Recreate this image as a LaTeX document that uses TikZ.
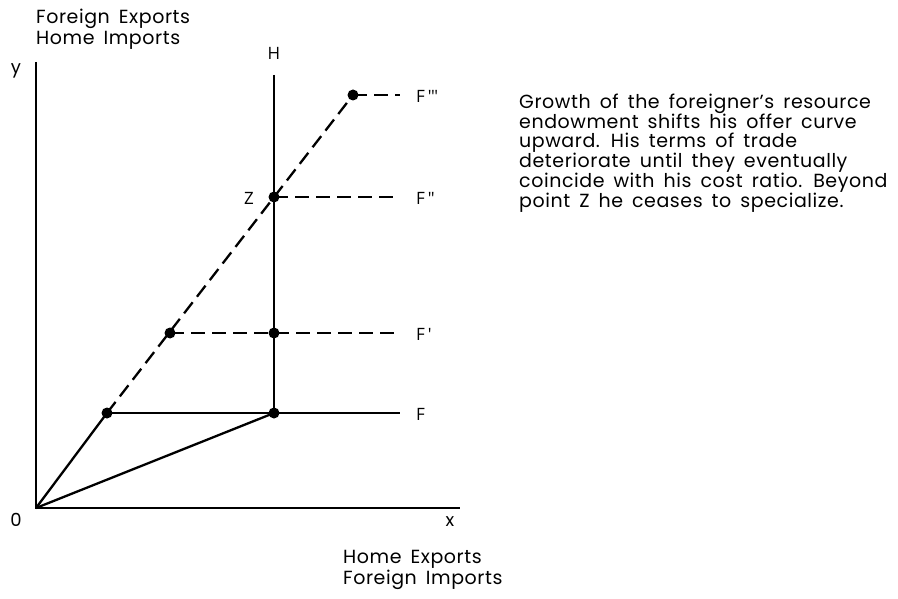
\documentclass[tikz,border=0pt]{standalone}
\usepackage{fontspec}
\setmainfont{Poppins}[LetterSpace=3,WordSpace=1.6]
\newfontfamily\lblfont{Open Sans}
\begin{document}
\begin{tikzpicture}[x=1pt,y=-1pt,
  axis/.style={line width=1.3pt},
  curve/.style={line width=2.3pt},
  dashcurve/.style={line width=2.3pt,dash pattern=on 14pt off 7pt},
  dot/.style={circle,fill=black,inner sep=0pt,minimum size=11pt},
  lbl/.style={inner sep=0pt,font=\lblfont\fontsize{17}{19}\selectfont},
  albl/.style={inner sep=0pt,font=\fontsize{18}{20}\selectfont},
  txt/.style={inner sep=0pt,align=left,font=\fontsize{19}{21}\selectfont},
  ptxt/.style={inner sep=0pt,align=left,font=\fontsize{19}{19.8}\selectfont}]
\useasboundingbox (0,0) rectangle (898,599);
% points
\coordinate (O) at (36,508);
\coordinate (ytop) at (36,62);
\coordinate (xend) at (460,508);
\coordinate (Htop) at (274,75);
\node[dot] (p1) at (107,413) {};
\node[dot] (p2) at (274,413) {};
\node[dot] (p3) at (170,333) {};
\node[dot] (p4) at (274,333) {};
\node[dot] (p5) at (274,197) {};
\node[dot] (p6) at (353,95) {};
\coordinate (eF) at (400,413);
\coordinate (eF1) at (400,333);
\coordinate (eF2) at (400,197);
\coordinate (eF3) at (400,95);
% axes
\draw[axis] (ytop) -- (O) -- (xend);
% lines
\draw[curve] (Htop) -- (p2.center);
\draw[curve] (O) -- (p1.center);
\draw[curve] (O) -- (p2.center);
\draw[curve] (p1.center) -- (eF);
\draw[dashcurve] (p1.center) -- (p6.center);
\draw[dashcurve] (p3.center) -- (eF1);
\draw[dashcurve] (p5.center) -- (eF2);
\draw[dashcurve] (p6.center) -- (eF3);
% labels
\node[lbl,anchor=west] (lF) at (416,414) {F};
\node[lbl,anchor=west] (lF1) at (416,334) {F\,\textquotesingle};
\node[lbl,anchor=west] (lF2) at (416,198) {F\,\textquotedbl};
\node[lbl,anchor=west] (lF3) at (416,96) {F\,\textquotesingle\kern-0.5pt\textquotesingle\kern-0.5pt\textquotesingle};
\node[lbl] (lZ) at (249,198) {Z};
\node[lbl] (lH) at (274,53) {H};
\node[albl] (ly) at (16,71) {y};
\node[albl] (l0) at (16,520) {0};
\node[albl] (lx) at (450,522) {x};
\node[txt,anchor=north west] (ty) at (36,9) {Foreign Exports\\Home Imports};
\node[txt,anchor=north west] (tx) at (343,550) {Home Exports\\Foreign Imports};
\node[ptxt,anchor=north west] (para) at (519,93.5) {Growth of the foreigner’s resource\\endowment shifts his offer curve\\upward. His terms of trade\\deteriorate until they eventually\\coincide with his cost ratio. Beyond\\point Z he ceases to specialize.};
\end{tikzpicture}
\end{document}
